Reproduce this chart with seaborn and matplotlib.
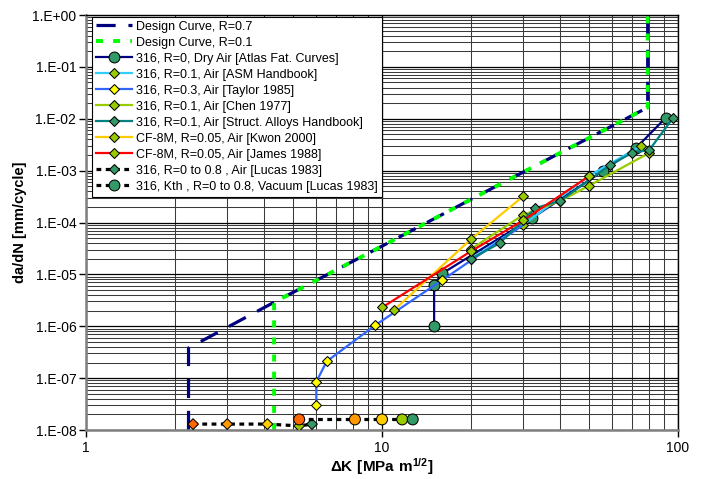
import numpy as np
import pandas as pd
import matplotlib
matplotlib.use('Agg')
import matplotlib.pyplot as plt
import seaborn as sns
from matplotlib.lines import Line2D
from matplotlib.ticker import LogLocator, FuncFormatter, NullFormatter, FixedLocator

plt.rcParams['font.family'] = ['Liberation Sans', 'DejaVu Sans']
plt.rcParams['mathtext.fontset'] = 'custom'
plt.rcParams['mathtext.rm'] = 'Liberation Sans'
plt.rcParams['mathtext.bf'] = 'Liberation Sans:bold'

# ---------------- data ----------------
dc07_dk = [2.22, 2.22, 4.32, 10, 20, 40, 79, 79]
dc07_dadn = [1e-8, 3.8e-7, 2.9e-6, 3.5e-5, 2.8e-4, 2.2e-3, 1.65e-2, 1.0]
dc01_dk = [4.32, 4.32, 10, 20, 40, 79, 79]
dc01_dadn = [1e-8, 2.9e-6, 3.5e-5, 2.8e-4, 2.2e-3, 1.65e-2, 1.0]

atlas_dk = [15, 15, 16, 32, 56, 72, 91]
atlas_dadn = [1.0e-6, 6.3e-6, 1.05e-5, 1.2e-4, 1.0e-3, 2.7e-3, 1.05e-2]

asm_dk = [20, 30, 50, 75]
asm_dadn = [2.0e-5, 9.0e-5, 7.9e-4, 3.0e-3]

taylor_dk = [6.0, 6.0, 6.5, 9.5, 16, 30]
taylor_dadn = [3.1e-8, 8.5e-8, 2.1e-7, 1.05e-6, 7.8e-6, 9.0e-5]

chen_dk = [20, 30, 40, 50, 80]
chen_dadn = [3.1e-5, 1.4e-4, 2.6e-4, 5.1e-4, 2.2e-3]

struct_dk = [20, 25, 33, 40, 59, 70, 80, 96]
struct_dadn = [2.0e-5, 4.0e-5, 1.9e-4, 2.6e-4, 1.29e-3, 2.2e-3, 2.5e-3, 1.02e-2]

kwon_dk = [11, 20, 30]
kwon_dadn = [2.07e-6, 4.8e-5, 3.2e-4]

james_dk = [10, 20, 30, 50]
james_dadn = [2.3e-6, 2.8e-5, 1.1e-4, 7.8e-4]

lucas_air_dk = [2.3, 3.0, 4.1, 5.25, 5.8]
lucas_air_dadn = [1.3e-8, 1.3e-8, 1.3e-8, 1.2e-8, 1.3e-8]
lucas_vac_dk = [5.25, 8.1, 10.0, 11.7, 12.7]
lucas_vac_dadn = [1.6e-8, 1.6e-8, 1.6e-8, 1.6e-8, 1.6e-8]
lucas_colors = ['#FF6600', '#FF9900', '#FFCC00', '#99CC00', '#339966']

y_ticks = [1e-8, 1e-7, 1e-6, 1e-5, 1e-4, 1e-3, 1e-2, 1e-1, 1.0]
x_ticks = [1, 10, 100]

labels = [
    'Design Curve, R=0.7',
    'Design Curve, R=0.1',
    '316, R=0, Dry Air [Atlas Fat. Curves]',
    '316, R=0.1, Air [ASM Handbook]',
    '316, R=0.3, Air [Taylor 1985]',
    '316, R=0.1, Air [Chen 1977]',
    '316, R=0.1, Air [Struct. Alloys Handbook]',
    'CF-8M, R=0.05, Air [Kwon 2000]',
    'CF-8M, R=0.05, Air [James 1988]',
    '316, R=0 to 0.8 , Air [Lucas 1983]',
    '316, Kth , R=0 to 0.8, Vacuum [Lucas 1983]',
]

NAVY = '#000080'
GREEN = '#00FF00'
SEAG = '#339966'
YGRN = '#99CC00'

fig = plt.figure(figsize=(7.04, 4.79), dpi=100)
ax = fig.add_axes([86/704, 1-430/479, 592/704, 415/479])
ax.set_xscale('log')
ax.set_yscale('log')
ax.set_xlim(1, 100)
ax.set_ylim(1e-8, 1)

ax.set_axisbelow(True)
x_minor = [m * d for d in (1, 10) for m in range(2, 10)]
y_minor = [m * 10.0 ** e for e in range(-8, 0) for m in range(2, 10)]
ax.xaxis.set_minor_locator(FixedLocator(x_minor))
ax.yaxis.set_minor_locator(FixedLocator(y_minor))
ax.yaxis.set_major_locator(FixedLocator(y_ticks))
ax.xaxis.set_major_locator(FixedLocator(x_ticks))
ax.grid(True, which='minor', color='#3a3a3a', lw=0.75)
ax.grid(True, which='major', color='black', lw=0.9)

ax.yaxis.set_major_formatter(FuncFormatter(lambda v, p: '1.E%+03d' % int(round(np.log10(v)))))
ax.xaxis.set_major_formatter(FuncFormatter(lambda v, p: '%g' % v))
ax.xaxis.set_minor_formatter(NullFormatter())
ax.yaxis.set_minor_formatter(NullFormatter())
ax.tick_params(which='major', direction='out', length=5, width=1, labelsize=10, pad=2, color='black')
ax.tick_params(axis='x', which='major', pad=3)
ax.tick_params(which='minor', length=0)
for s in ['left', 'bottom']:
    ax.spines[s].set_color('#808080')
    ax.spines[s].set_linewidth(1.8)
for s in ['top', 'right']:
    ax.spines[s].set_color('black')
    ax.spines[s].set_linewidth(1.0)

DASH07 = (0, (6, 4))
DASH01 = (0, (1.8, 2.6))
DOT = (0, (1.5, 1.4))


def series(x, y, color, lw, ls, marker=None, mfc=None, ms=0, z=2, **kw):
    sns.lineplot(x=x, y=y, ax=ax, sort=False, estimator=None, color=color,
                 lw=lw, linestyle=ls, marker=marker, markerfacecolor=mfc,
                 markeredgecolor='black', markeredgewidth=0.75, markersize=ms,
                 legend=False, zorder=z, **kw)


series(dc07_dk, dc07_dadn, NAVY, 2.3, DASH07, z=2)
series(dc01_dk, dc01_dadn, GREEN, 2.8, DASH01, z=2.1)
series(atlas_dk, atlas_dadn, NAVY, 1.6, '-', 'o', SEAG, 7.8, z=3)
series(asm_dk, asm_dadn, '#33CCFF', 1.6, '-', 'D', YGRN, 5.3, z=3.1)
series(taylor_dk, taylor_dadn, '#3366FF', 1.6, '-', 'D', '#FFFF00', 5.3, z=3.2,
       markevery=[0, 1, 2, 3, 4])
series(chen_dk, chen_dadn, YGRN, 1.6, '-', 'D', YGRN, 5.3, z=3.3)
series(struct_dk, struct_dadn, '#008080', 1.6, '-', 'D', SEAG, 5.3, z=3.4)
series(kwon_dk, kwon_dadn, '#FFCC00', 1.6, '-', 'D', YGRN, 5.3, z=3.5)
series(james_dk, james_dadn, '#FF0000', 1.6, '-', 'D', YGRN, 5.3, z=3.6)

series(lucas_air_dk, lucas_air_dadn, 'black', 2.3, DOT, z=3.7)
sns.scatterplot(x=lucas_air_dk, y=lucas_air_dadn, hue=lucas_colors,
                palette={c: c for c in lucas_colors}, marker='D', s=30,
                edgecolor='black', linewidth=0.75, legend=False, ax=ax, zorder=3.8)
series(lucas_vac_dk, lucas_vac_dadn, 'black', 2.3, DOT, z=3.9)
sns.scatterplot(x=lucas_vac_dk, y=lucas_vac_dadn, hue=lucas_colors,
                palette={c: c for c in lucas_colors}, marker='o', s=62,
                edgecolor='black', linewidth=0.75, legend=False, ax=ax, zorder=4)

handles = [
    Line2D([], [], color=NAVY, lw=2.3, linestyle=DASH07),
    Line2D([], [], color=GREEN, lw=2.8, linestyle=DASH01),
    Line2D([], [], color=NAVY, lw=1.6, marker='o', mfc=SEAG, mec='black', mew=0.75, ms=7.8),
    Line2D([], [], color='#33CCFF', lw=1.6, marker='D', mfc=YGRN, mec='black', mew=0.75, ms=5.0),
    Line2D([], [], color='#3366FF', lw=1.6, marker='D', mfc='#FFFF00', mec='black', mew=0.75, ms=5.0),
    Line2D([], [], color=YGRN, lw=1.6, marker='D', mfc=YGRN, mec='black', mew=0.75, ms=5.0),
    Line2D([], [], color='#008080', lw=1.6, marker='D', mfc=SEAG, mec='black', mew=0.75, ms=5.0),
    Line2D([], [], color='#FFCC00', lw=1.6, marker='D', mfc=YGRN, mec='black', mew=0.75, ms=5.0),
    Line2D([], [], color='#FF0000', lw=1.6, marker='D', mfc=YGRN, mec='black', mew=0.75, ms=5.0),
    Line2D([], [], color='black', lw=2.3, linestyle=DOT, marker='D', mfc=SEAG, mec='black', mew=0.75, ms=5.0),
    Line2D([], [], color='black', lw=2.3, linestyle=DOT, marker='o', mfc=SEAG, mec='black', mew=0.75, ms=7.8),
]
leg = ax.legend(handles, labels, loc='upper left', bbox_to_anchor=(6/592, 1-2/415),
                borderaxespad=0, fontsize=9, frameon=True, fancybox=False,
                framealpha=1, edgecolor='black', handlelength=2.9, handletextpad=0.35,
                labelspacing=0.32, borderpad=0.3)
leg.get_frame().set_linewidth(0.8)
leg.set_zorder(10)

ax.set_ylabel('da/dN [mm/cycle]', fontsize=10.5, fontweight='bold', labelpad=4)
ax.set_xlabel(r'$\mathbf{\Delta K\ [MPa\ m^{1/2}]}$', fontsize=11, labelpad=1)

fig.savefig('out.png', dpi=100)
